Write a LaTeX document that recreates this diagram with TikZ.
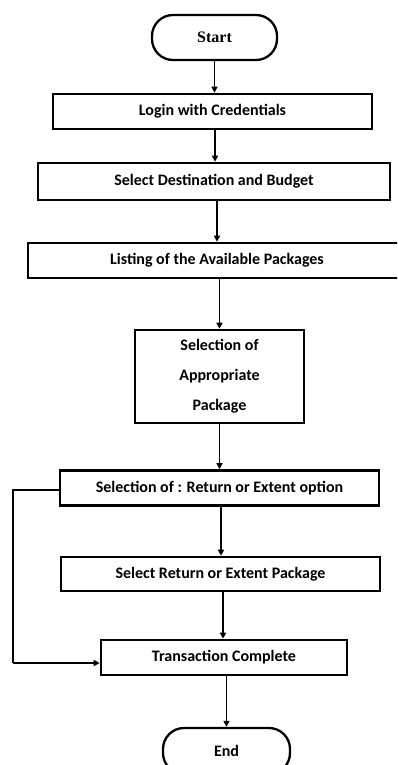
\documentclass[tikz,border=0pt]{standalone}
\usepackage{fontspec}
\setmainfont{Carlito}
\newfontfamily\serifb{Liberation Serif}
\usetikzlibrary{arrows.meta}
\begin{document}
\begin{tikzpicture}[x=1pt,y=-1pt,
  box/.style={draw=black,line width=2.6pt,rectangle,inner sep=0pt,font=\fontsize{16}{19}\selectfont\bfseries,align=center},
  term/.style={draw=black,line width=2.3pt,rectangle,rounded corners=21pt,inner sep=0pt},
  arr/.style={line width=1.8pt,-{Triangle[length=6pt,width=6pt]}},
  fb/.style={line width=1.5pt}]
\useasboundingbox (0,0) rectangle (397,765);
\clip (0,0) rectangle (397,765);
\fill[white] (0,0) rectangle (397,765);
\node[term,minimum width=125pt,minimum height=45pt,font=\serifb\fontsize{16}{19}\selectfont\bfseries] (start) at (214.5,37.5) {Start};
\node[box,minimum width=319pt,minimum height=35pt] (login) at (212.5,111.5) {Login with Credentials};
\node[box,minimum width=352pt,minimum height=37pt] (dest) at (214,181.5) {Select Destination and Budget};
\node[box,minimum width=378pt,minimum height=35pt] (list) at (217,260.5) {Listing of the Available Packages};
\node[box,minimum width=169pt,minimum height=93pt] (appr) at (219.5,376.5) {Selection of\\[11pt]Appropriate\\[11pt]Package};
\node[box,minimum width=319pt,minimum height=35pt] (ret) at (219.5,488) {Selection of : Return or Extent option};
\node[box,minimum width=319pt,minimum height=34pt] (selret) at (220.5,574) {Select Return or Extent Package};
\node[box,minimum width=246pt,minimum height=35pt] (trans) at (224,657.5) {Transaction Complete};
\node[term,minimum width=127pt,minimum height=46pt,font=\fontsize{16}{19}\selectfont\bfseries] (end) at (226.5,751) {End};
\coordinate (fbx) at (13,0);
\draw[arr] (start.south) -- (login.north -| start.south);
\draw[arr] (login.south -| 215,0) -- (dest.north -| 215,0);
\draw[arr] (dest.south -| 217,0) -- (list.north -| 217,0);
\draw[arr] (list.south -| appr.north) -- (appr.north);
\draw[arr] (appr.south) -- (ret.north -| appr.south);
\draw[arr] (ret.south -| 221,0) -- (selret.north -| 221,0);
\draw[arr] (selret.south -| 223,0) -- (trans.north -| 223,0);
\draw[arr] (trans.south -| end.north) -- (end.north);
\draw[fb] ([yshift=-2pt]ret.west) -| (fbx |- 0,663);
\draw[arr,line width=1.5pt] (fbx |- 0,663) -- (trans.west |- 0,663);
\end{tikzpicture}
\end{document}
